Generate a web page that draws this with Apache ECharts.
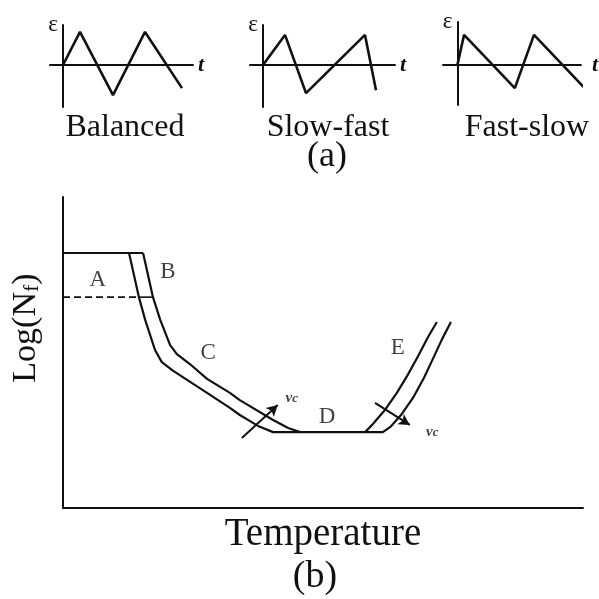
<!DOCTYPE html>
<html><head><meta charset="utf-8">
<script src="https://cdn.jsdelivr.net/npm/echarts@6/dist/echarts.min.js"></script>
<style>html,body{margin:0;padding:0;background:#fff}#c{width:599px;height:599px}</style>
</head><body><div id="c"></div>
<script>
// ---- Panel (a): strain waveforms (time in arbitrary units, strain normalised) ----
const balancedT = [0, 1.7, 5.0, 8.2, 11.9];
const balancedE = [0, 1.0, -0.91, 1.0, -0.70];
const slowFastT = [0, 2.2, 4.3, 10.2, 11.3];
const slowFastE = [0, 0.91, -0.85, 0.91, -0.76];
const fastSlowT = [0, 0.7, 6.0, 8.0, 13.2];
const fastSlowE = [0, 0.91, -0.70, 0.91, -0.67];
const waveNames = ['Balanced', 'Slow-fast', 'Fast-slow'];

// ---- Panel (b): schematic Log(Nf) vs temperature (both 0-100 arbitrary) ----
const plateauT = [0, 15.4];
const plateauN = [82.0, 82.0];
const dashedT = [0, 14.6];
const dashedN = [67.8, 67.8];
const bandT = [14.6, 17.3];
const bandN = [67.8, 67.8];
const lowerT = [12.7, 14.6, 15.8, 17.7, 19.0, 21.2, 27.7, 32.1, 34.0, 37.5, 40.4, 61.5, 62.9, 65.0, 67.3, 69.4, 71.2, 72.9, 74.6];
const lowerN = [82.0, 67.8, 60.5, 50.8, 46.9, 44.1, 37.0, 32.2, 29.9, 26.4, 24.4, 24.4, 26.0, 29.9, 35.4, 41.8, 48.2, 54.3, 59.8];
const upperCT = [15.4, 17.3, 18.7, 20.6, 21.9, 24.4, 27.7, 32.1, 34.0, 40.4, 43.3, 45.6];
const upperCN = [82.0, 67.8, 60.5, 52.4, 49.5, 46.3, 41.5, 37.0, 34.7, 28.3, 25.7, 24.4];
const upperET = [58.1, 59.6, 61.9, 64.2, 66.3, 68.3, 70.2, 71.9];
const upperEN = [24.4, 27.0, 31.5, 37.0, 42.8, 48.9, 55.0, 59.8];
const arrowLowT = [34.4, 41.3];
const arrowLowN = [22.5, 33.1];
const arrowHighT = [60.0, 66.7];
const arrowHighN = [33.8, 26.7];
const regionLabels = ['A', 'B', 'C', 'D', 'E'];
const regionT = [6.7, 20.2, 27.9, 50.8, 64.4];
const regionN = [73.3, 75.9, 49.8, 29.3, 51.4];
const vcT = [44.0, 71.0];
const vcN = [35.4, 24.4];

const SERIF = '"Liberation Serif","Times New Roman",serif';
const INK = '#111';
const zip = (a, b) => a.map((v, i) => [v, b[i]]);

const chart = echarts.init(document.getElementById('c'), null, {renderer: 'canvas'});

function axisBase(extra) {
  return Object.assign({
    type: 'value',
    axisLine: {show: true, lineStyle: {color: INK, width: 2}},
    axisTick: {show: false},
    axisLabel: {show: false},
    splitLine: {show: false}
  }, extra);
}

const grids = [
  {left: 63, top: 197, width: 520, height: 311},
  {left: 50, top: 25, width: 143, height: 82},
  {left: 250, top: 25, width: 145, height: 82},
  {left: 443, top: 22, width: 144, height: 83}
];
const miniX = [[-1.3, 13.0], [-1.3, 13.2], [-1.5, 12.9]];
const miniY = [[-1.27, 1.21], [-1.27, 1.21], [-1.21, 1.3]];
const tGaps = [5, 5, 11];

const xAxes = [axisBase({gridIndex: 0, min: 0, max: 100,
  name: 'Temperature', nameLocation: 'middle', nameGap: 7,
  nameTextStyle: {fontFamily: SERIF, fontSize: 39, color: INK}})];
const yAxes = [axisBase({gridIndex: 0, min: 0, max: 100})];
for (let i = 0; i < 3; i++) {
  xAxes.push(axisBase({gridIndex: i + 1, min: miniX[i][0], max: miniX[i][1],
    name: 't', nameLocation: 'end', nameGap: tGaps[i],
    nameTextStyle: {fontFamily: SERIF, fontSize: 22, fontStyle: 'italic', fontWeight: 'bold', color: INK}}));
  yAxes.push(axisBase({gridIndex: i + 1, min: miniY[i][0], max: miniY[i][1],
    name: 'ε', nameLocation: 'end', nameGap: 0,
    nameTextStyle: {fontFamily: SERIF, fontSize: 23, color: INK, align: 'right', verticalAlign: 'middle', padding: [0, 5, 0, 0]}}));
}

function lineSeries(xi, data, extra) {
  return Object.assign({
    type: 'line', xAxisIndex: xi, yAxisIndex: xi, data: data,
    symbol: 'none', clip: false, silent: true, animation: false,
    lineStyle: {color: INK, width: 2.2}
  }, extra || {});
}

const waves = [[balancedT, balancedE], [slowFastT, slowFastE], [fastSlowT, fastSlowE]];
const series = [];
waves.forEach((w, i) => series.push(lineSeries(i + 1, zip(w[0], w[1]), {lineStyle: {color: INK, width: 2.6}})));

series.push(lineSeries(0, zip(plateauT, plateauN)));
series.push(lineSeries(0, zip(dashedT, dashedN), {lineStyle: {color: INK, width: 1.6, type: [7, 4]}}));
series.push(lineSeries(0, zip(bandT, bandN), {lineStyle: {color: INK, width: 1.6}}));
series.push(lineSeries(0, zip(lowerT, lowerN)));
series.push(lineSeries(0, zip(upperCT, upperCN)));
series.push(lineSeries(0, zip(upperET, upperEN), {
  markLine: {
    silent: true, animation: false, symbol: ['none', 'arrow'], symbolSize: [9, 11],
    lineStyle: {color: INK, width: 2, type: 'solid'}, label: {show: false},
    data: [
      [{coord: [arrowLowT[0], arrowLowN[0]]}, {coord: [arrowLowT[1], arrowLowN[1]]}],
      [{coord: [arrowHighT[0], arrowHighN[0]]}, {coord: [arrowHighT[1], arrowHighN[1]]}]
    ]
  }
}));
series.push({
  type: 'scatter', xAxisIndex: 0, yAxisIndex: 0, symbolSize: 0, silent: true, animation: false,
  itemStyle: {color: INK},
  data: regionLabels.map((n, i) => ({name: n, value: [regionT[i], regionN[i]]})),
  label: {show: true, position: 'inside', formatter: p => p.name, fontFamily: SERIF, fontSize: 23,
    color: INK, textBorderWidth: 0}
});
series.push({
  type: 'scatter', xAxisIndex: 0, yAxisIndex: 0, symbolSize: 0, silent: true, animation: false,
  itemStyle: {color: INK},
  data: vcT.map((t, i) => [t, vcN[i]]),
  label: {show: true, position: 'inside', formatter: '{v|v}{c|c}', textBorderWidth: 0,
    rich: {v: {fontFamily: SERIF, fontStyle: 'italic', fontWeight: 'bold', fontSize: 15, color: INK, textBorderWidth: 0},
           c: {fontFamily: SERIF, fontStyle: 'italic', fontWeight: 'bold', fontSize: 13, color: INK, textBorderWidth: 0,
               verticalAlign: 'bottom', lineHeight: 10}}}
});

const waveCenters = [125, 328, 527];
const graphic = waveNames.map((n, i) => ({
  type: 'text', x: waveCenters[i], y: 128, silent: true,
  style: {text: n, font: '32px ' + SERIF, fill: INK, align: 'center', verticalAlign: 'middle'}
}));
graphic.push({type: 'text', x: 327, y: 157, silent: true,
  style: {text: '(a)', font: '36px ' + SERIF, fill: INK, align: 'center', verticalAlign: 'middle'}});
graphic.push({type: 'text', x: 315, y: 577, silent: true,
  style: {text: '(b)', font: '38px ' + SERIF, fill: INK, align: 'center', verticalAlign: 'middle'}});
graphic.push({type: 'text', x: 26, y: 328, rotation: Math.PI / 2, silent: true,
  style: {text: 'Log(N{f|f})', fontFamily: SERIF, fontSize: 34, fill: INK, align: 'center', verticalAlign: 'middle',
    rich: {f: {fontFamily: SERIF, fontSize: 22, fill: INK, verticalAlign: 'bottom', lineHeight: 12}}}});

chart.setOption({
  animation: false,
  backgroundColor: '#fff',
  grid: grids,
  xAxis: xAxes,
  yAxis: yAxes,
  series: series,
  graphic: graphic
});
</script></body></html>
